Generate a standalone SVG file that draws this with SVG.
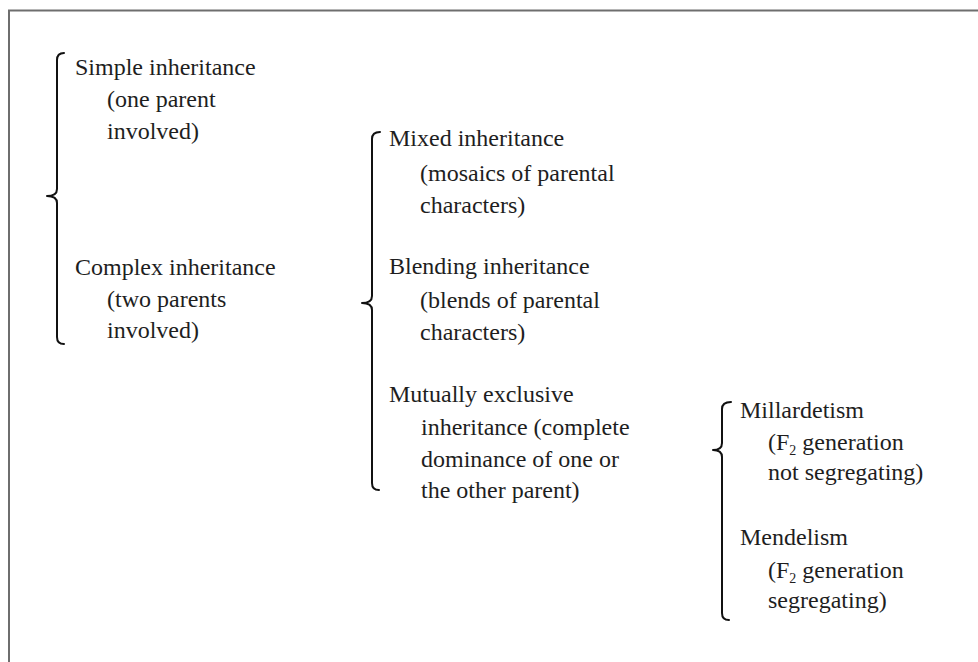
<svg xmlns="http://www.w3.org/2000/svg" width="978" height="662" viewBox="0 0 978 662">
<style>
text{font-family:"Liberation Serif","Times New Roman",serif;font-size:24px;fill:#1e1e1e}
.sub{font-size:14px}
.brace{fill:none;stroke:#111;stroke-width:2;stroke-linecap:round;stroke-linejoin:round}
.frame{fill:none;stroke:#6e6e6e;stroke-width:2}
</style>
<rect x="0" y="0" width="978" height="662" fill="#fff"/>
<path class="frame" d="M9,662 V10.5 H978"/>
<g id="connectors">
<path class="brace" d="M64,53 Q57,53 57,60 V189 Q57,196 47,196 Q57,196 57,203 V337 Q57,344 64,344"/>
<path class="brace" d="M380,132 Q372,132 372,139 V296 Q372,303 362,303 Q372,303 372,310 V483 Q372,490 379,490"/>
<path class="brace" d="M731,402 Q722,402 722,409 V443 Q722,450 713,450 Q722,450 722,457 V613 Q722,620 729,620"/>
</g>
<g id="simple">
<text x="75" y="75">Simple inheritance</text>
<text x="107" y="107">(one parent</text>
<text x="107" y="139">involved)</text>
</g>
<g id="complex">
<text x="75" y="275">Complex inheritance</text>
<text x="107" y="307">(two parents</text>
<text x="107" y="338">involved)</text>
</g>
<g id="mixed">
<text x="389" y="146">Mixed inheritance</text>
<text x="420" y="181">(mosaics of parental</text>
<text x="420" y="213">characters)</text>
</g>
<g id="blending">
<text x="389" y="274">Blending inheritance</text>
<text x="420" y="308">(blends of parental</text>
<text x="420" y="340">characters)</text>
</g>
<g id="mutually">
<text x="389" y="402">Mutually exclusive</text>
<text x="421" y="435">inheritance (complete</text>
<text x="421" y="467">dominance of one or</text>
<text x="421" y="498">the other parent)</text>
</g>
<g id="millardetism">
<text x="740" y="418">Millardetism</text>
<text x="768" y="450">(F<tspan class="sub" dy="5">2</tspan><tspan dy="-5"> generation</tspan></text>
<text x="768" y="480">not segregating)</text>
</g>
<g id="mendelism">
<text x="740" y="545">Mendelism</text>
<text x="768" y="578">(F<tspan class="sub" dy="5">2</tspan><tspan dy="-5"> generation</tspan></text>
<text x="768" y="608">segregating)</text>
</g>
</svg>
